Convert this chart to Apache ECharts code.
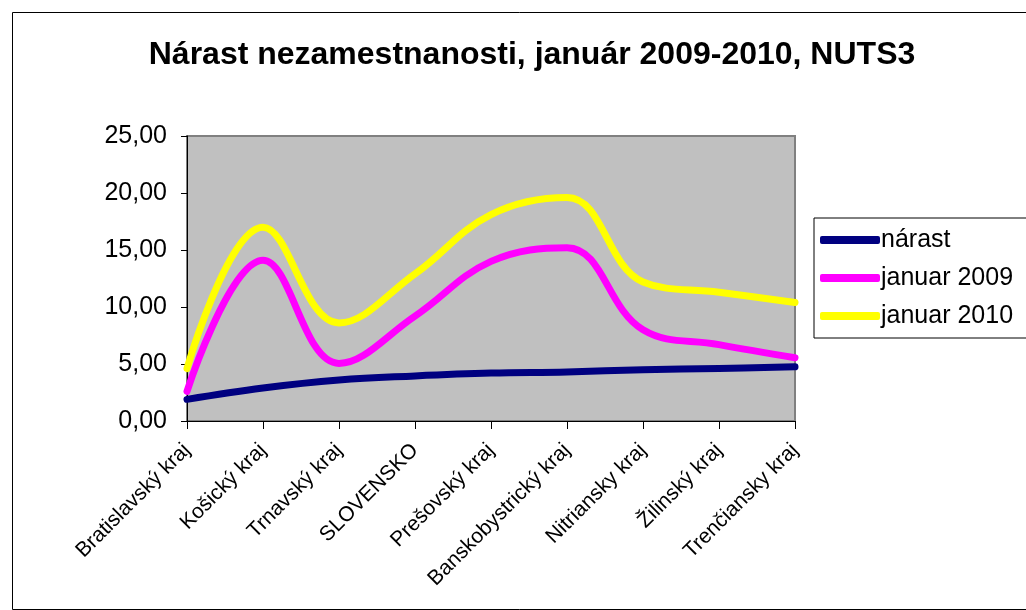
<!DOCTYPE html>
<html>
<head>
<meta charset="utf-8">
<script src="https://cdn.jsdelivr.net/npm/echarts@6/dist/echarts.min.js"></script>
<style>html,body{margin:0;padding:0;background:#fff;}#c{width:1026px;height:610px;}</style>
</head>
<body>
<div id="c"></div>
<script>
const categories = ['Bratislavský kraj','Košický kraj','Trnavský kraj','SLOVENSKO','Prešovský kraj','Banskobystrický kraj','Nitriansky kraj','Žilinský kraj','Trenčiansky kraj'];
const narast = [1.9, 2.9, 3.6, 3.95, 4.2, 4.3, 4.5, 4.6, 4.75];
const januar2009 = [2.6, 14.1, 5.05, 9.2, 14.0, 15.2, 8.0, 6.7, 5.55];
const januar2010 = [4.6, 17.0, 8.6, 12.9, 18.1, 19.6, 12.2, 11.3, 10.4];
const yTicks = {min: 0, max: 25, interval: 5};
const seriesNames = ['nárast', 'januar 2009', 'januar 2010'];
const seriesColors = ['#000080', '#FF00FF', '#FFFF00'];
const seriesData = [narast, januar2009, januar2010];

const font = 'Arial, "Liberation Sans", sans-serif';
const chart = echarts.init(document.getElementById('c'));
chart.setOption({
  animation: false,
  backgroundColor: '#ffffff',
  title: {
    text: 'Nárast nezamestnanosti, január 2009-2010, NUTS3',
    left: 527, top: 34, textAlign: 'center',
    textStyle: {fontFamily: font, fontWeight: 'bold', fontSize: 32, color: '#000'}
  },
  graphic: [{
    type: 'rect', left: 10, top: 10, silent: true,
    shape: {x: 0, y: 0, width: 1030, height: 597},
    style: {fill: 'none', stroke: '#000', lineWidth: 1}
  }],
  grid: {left: 187, right: 231, top: 136, bottom: 189, show: true, backgroundColor: '#C0C0C0', borderColor: '#808080', borderWidth: 2},
  legend: {
    orient: 'vertical', left: 814, top: 218,
    backgroundColor: '#fff', borderColor: '#000', borderWidth: 1,
    padding: [8, 40, 8, 6], itemGap: 10, itemWidth: 60, itemHeight: 8,
    icon: 'roundRect',
    textStyle: {fontFamily: font, fontSize: 25, lineHeight: 28, color: '#000', padding: [0, 0, 0, -4]},
    data: seriesNames
  },
  xAxis: {
    type: 'category', data: categories, boundaryGap: false,
    axisLine: {lineStyle: {color: '#000', width: 1}},
    axisTick: {show: true, length: 8, inside: false, lineStyle: {color: '#000'}},
    axisLabel: {rotate: 45, margin: 26, fontFamily: font, fontSize: 21, color: '#000', interval: 0},
    splitLine: {show: false}
  },
  yAxis: {
    type: 'value', min: yTicks.min, max: yTicks.max, interval: yTicks.interval,
    axisLine: {show: true, lineStyle: {color: '#000', width: 1}},
    axisTick: {show: true, length: 6, lineStyle: {color: '#000'}},
    axisLabel: {margin: 20, fontFamily: font, fontSize: 25, color: '#000',
      formatter: v => v.toFixed(2).replace('.', ',')},
    splitLine: {show: false}
  },
  series: seriesNames.map((n, i) => ({
    name: n, type: 'line', data: seriesData[i], smooth: 0.4, showSymbol: false, symbol: 'none',
    lineStyle: {color: seriesColors[i], width: 7, cap: 'round', join: 'round'},
    itemStyle: {color: seriesColors[i]}
  }))
});
</script>
</body>
</html>
